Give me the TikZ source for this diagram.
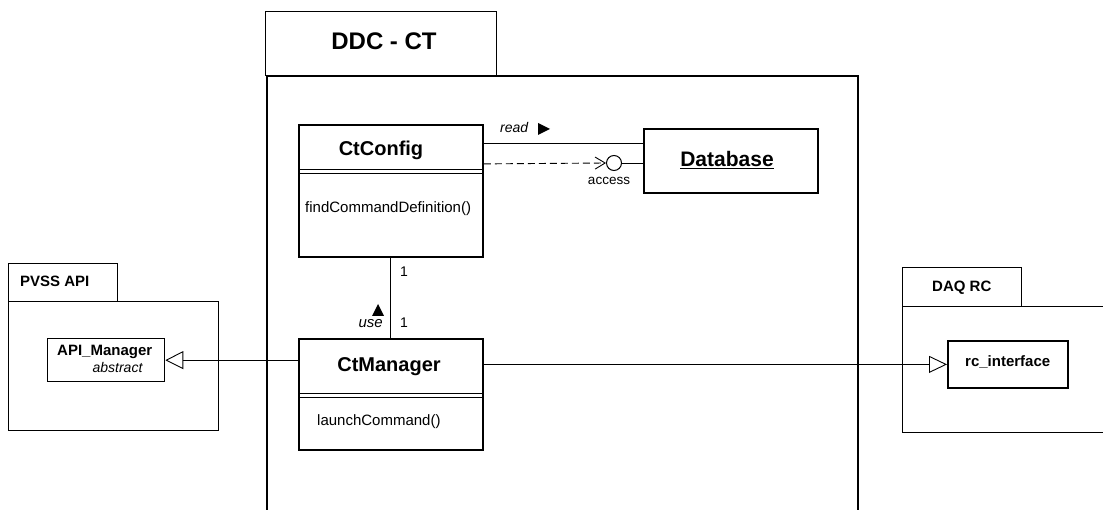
\documentclass[tikz,border=0pt]{standalone}
\usepackage{fontspec}
\setmainfont{Liberation Sans}
\usetikzlibrary{arrows.meta,calc}

\begin{document}
\begin{tikzpicture}[x=1pt,y=-1pt,
  pkgbox/.style={draw, line width=1pt, inner sep=0pt, anchor=north west},
  clsbox/.style={draw, line width=1.8pt, inner sep=0pt, anchor=north west},
  conn/.style={line width=0.9pt},
  sepline/.style={line width=1pt},
  txt/.style={inner sep=0pt, anchor=base west, font=\fontsize{#1}{#1}\selectfont},
  btxt/.style={inner sep=0pt, anchor=base west, font=\fontsize{#1}{#1}\selectfont\bfseries},
  itxt/.style={inner sep=0pt, anchor=base west, font=\fontsize{#1}{#1}\selectfont\itshape},
]
\useasboundingbox (0,0) rectangle (1103,510);
\clip (0,0) rectangle (1103,510);

% ---- package DDC - CT ----
\node[pkgbox, minimum width=231pt, minimum height=64pt] (ddctab) at (265,11) {};
\node[clsbox, minimum width=591pt, minimum height=460pt] (ddc) at (266,75) {};
\node[btxt=24, anchor=base] (ddclabel) at (384,50) {DDC - CT};

% ---- class CtConfig ----
\node[clsbox, minimum width=184pt, minimum height=132pt] (ctconfig) at (298,124) {};
\draw[sepline] ($(ctconfig.north west)+(0,46)$) -- ($(ctconfig.north east)+(0,46)$);
\draw[sepline] ($(ctconfig.north west)+(0,49.5)$) -- ($(ctconfig.north east)+(0,49.5)$);
\node[btxt=20, anchor=base] (ctconfigname) at (381,156) {CtConfig};
\node[txt=15] (ctconfigop) at (305,213) {findCommandDefinition()};

% ---- class CtManager ----
\node[clsbox, minimum width=184pt, minimum height=111pt] (ctmanager) at (298,338) {};
\draw[sepline] ($(ctmanager.north west)+(0,56)$) -- ($(ctmanager.north east)+(0,56)$);
\draw[sepline] ($(ctmanager.north west)+(0,59.5)$) -- ($(ctmanager.north east)+(0,59.5)$);
\node[btxt=20, anchor=base] (ctmanagername) at (389,372) {CtManager};
\node[txt=15] (ctmanagerop) at (317,425) {launchCommand()};

% ---- object Database ----
\node[clsbox, minimum width=174pt, minimum height=64pt] (database) at (643,128) {};
\node[btxt=21, anchor=base] (dbname) at (727,167) {\underline{Database}};

% ---- package PVSS API ----
\node[pkgbox, minimum width=109pt, minimum height=38pt] (pvsstab) at (8,263) {};
\node[pkgbox, minimum width=210pt, minimum height=129pt] (pvss) at (8,301) {};
\node[btxt=15] (pvsslabel) at (20,287) {PVSS API};
\node[draw, line width=1.3pt, inner sep=0pt, anchor=north west,
      minimum width=117pt, minimum height=43pt] (apimgr) at (47,338) {};
\node[btxt=15] (apimgrname) at (57,356) {API\_Manager};
\node[itxt=14, anchor=base] (apimgrabs) at (117.5,373) {abstract};

% ---- package DAQ RC ----
\node[pkgbox, minimum width=119pt, minimum height=39pt] (daqtab) at (902,267) {};
\node[pkgbox, minimum width=230pt, minimum height=126pt] (daq) at (902,306) {};
\node[btxt=15] (daqlabel) at (932,292) {DAQ RC};
\node[clsbox, minimum width=120pt, minimum height=47pt] (rcif) at (947,340) {};
\node[btxt=15] (rcifname) at (965,367) {rc\_interface};

% ---- association CtConfig -> Database (read) ----
\draw[conn] ([yshift=47pt]ctconfig.east) -- ([yshift=47pt]ctconfig.east -| database.west);
\node[itxt=14] (readlabel) at (500,133) {read};
\fill (538,123) -- (550,129) -- (538,135) -- cycle;

% ---- dependency on the access interface ----
\node[draw, circle, line width=1pt, inner sep=0pt, minimum size=15pt] (iface) at (614,163) {};
\draw[conn, dash pattern=on 7pt off 4pt, -{Straight Barb[length=10pt,width=12pt]}]
  ([yshift=27pt]ctconfig.east) -- (iface.west);
\draw[conn] (iface.east) -- (iface.east -| database.west);
\node[txt=13.5, anchor=base] (accesslabel) at (609,185) {access};

% ---- association CtManager -- CtConfig (use) ----
\draw[conn] (ctconfig.south) -- (ctmanager.north);
\node[txt=14] (multtop) at (400,277) {1};
\node[txt=14] (multbot) at (400,328) {1};
\node[itxt=15, anchor=base east] (uselabel) at (383,328) {use};
\fill (372,316) -- (378,304) -- (384,316) -- cycle;

% ---- generalisations ----
\draw[conn, -{Triangle[open, length=18pt, width=18pt, fill=white]}]
  (ctmanager.west |- apimgr.east) -- (apimgr.east);
\draw[conn, -{Triangle[open, length=18pt, width=17pt, fill=white]}]
  (ctmanager.east |- rcif.west) -- (rcif.west);
\end{tikzpicture}
\end{document}
